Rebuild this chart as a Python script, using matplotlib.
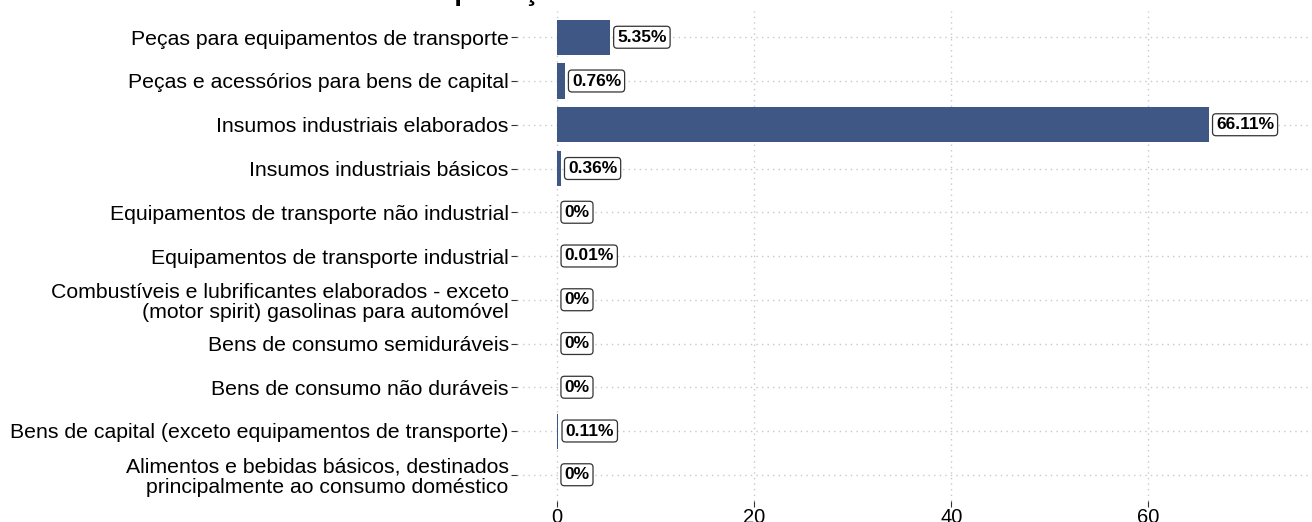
import matplotlib.pyplot as plt
import numpy as np

plt.rcParams['font.family'] = ['Liberation Sans', 'DejaVu Sans']

categorias = [
    "Peças para equipamentos de transporte",
    "Peças e acessórios para bens de capital",
    "Insumos industriais elaborados",
    "Insumos industriais básicos",
    "Equipamentos de transporte não industrial",
    "Equipamentos de transporte industrial",
    "Combustíveis e lubrificantes elaborados - exceto\n(motor spirit) gasolinas para automóvel",
    "Bens de consumo semiduráveis",
    "Bens de consumo não duráveis",
    "Bens de capital (exceto equipamentos de transporte)",
    "Alimentos e bebidas básicos, destinados\nprincipalmente ao consumo doméstico",
]
valores = [5.35, 0.76, 66.11, 0.36, 0, 0.01, 0, 0, 0, 0.11, 0]
xticks = [0, 20, 40, 60]

fig = plt.figure(figsize=(13.12, 5.22), dpi=100)
ax = fig.add_axes([517 / 1312, 21 / 522, 795 / 1312, 490 / 522])

y = np.arange(len(categorias))[::-1]
ax.barh(y, valores, height=0.8, color='#3f5785', zorder=2)

for yi, v in zip(y, valores):
    txt = "0%" if v == 0 else f"{v:g}%"
    ax.text(v + 0.75, yi, txt, va='center', ha='left', fontsize=12.5, fontweight='bold',
            bbox=dict(boxstyle='round,pad=0.2,rounding_size=0.2', fc='white', ec='#333333', lw=0.9),
            zorder=3)

ax.set_yticks(y)
ax.set_yticklabels(categorias, fontsize=15.3, linespacing=1.1)
ax.set_xticks(xticks)
ax.set_xticklabels([str(t) for t in xticks], fontsize=14.5)
ax.set_xlim(-4.06, 76.6)
ax.set_ylim(-0.6, len(categorias) - 0.4)

ax.grid(True, color='#c8c8c8', linestyle=(0, (1, 3)), linewidth=1, zorder=0)
for s in ax.spines.values():
    s.set_visible(False)
ax.tick_params(axis='y', length=4, color='#333333', pad=2)
ax.tick_params(axis='x', length=4, color='#333333', pad=1)

fig.text(422 / 1312, 1.0, "Importação", fontsize=20, fontweight='bold', ha='left', va='baseline')

fig.savefig('out.png', dpi=100)
